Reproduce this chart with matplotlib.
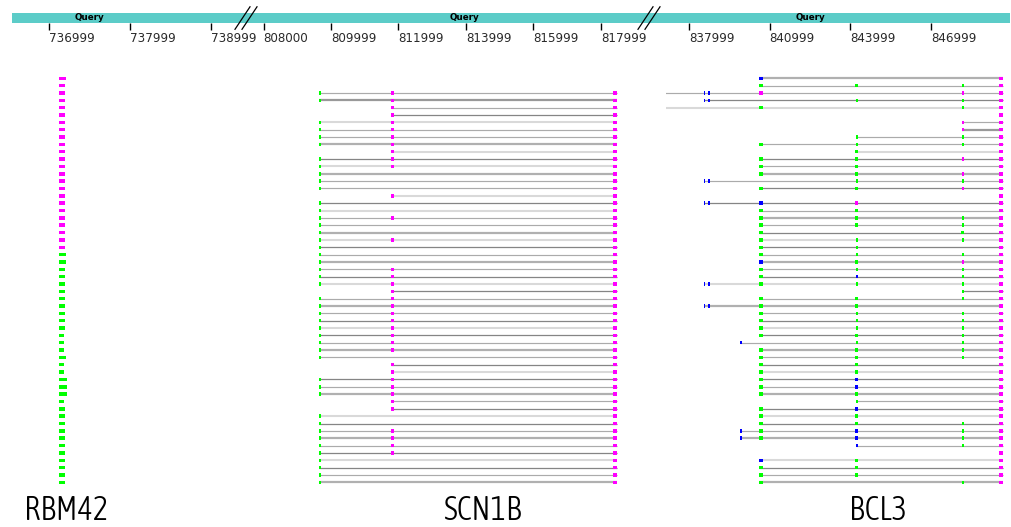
import matplotlib
matplotlib.use("Agg")
import matplotlib.pyplot as plt
from matplotlib.lines import Line2D
from matplotlib import font_manager

W, H = 1011, 527

# ---------------- ruler segments ----------------
seg_limits = [(736542, 739641), (807985, 819926), (837144, 849937)]
seg_px = [(12, 263), (263, 666), (666, 1010)]
seg_ticks = [[736999, 737999, 738999],
             [808000, 809999, 811999, 813999, 815999, 817999],
             [837999, 840999, 843999, 846999]]
query_pos = [737505, 813970, 842536]
gene_names = ["RBM42", "SCN1B", "BCL3"]
gene_label_pos = [737209, 814474, 845028]

# ---------------- RBM42 (single exon blocks) ----------------
rbm42_start = 737126
rbm42_colors = "M" * 24 + "G" * 32
rbm42_lengths = [78, 66, 66, 66, 66, 66, 66, 66, 66, 66,
                 66, 66, 66, 66, 66, 66, 66, 66, 66, 66,
                 66, 66, 66, 66, 78, 78, 66, 66, 66, 66,
                 66, 66, 66, 66, 66, 53, 53, 53, 78, 53,
                 53, 99, 99, 99, 53, 66, 66, 66, 66, 66,
                 66, 66, 66, 66, 66, 66]

# ---------------- SCN1B ----------------
scn1b_first_row = 2
scn1b_exon1 = (809644, 60)
scn1b_exon2 = (811778, 98)
scn1b_exon3 = (818347, 127)
scn1b_has1 = "GG--GGGG" "-GGGGG-GGG" "GGGGGGGGG-" "GGGGGGGGG-" "-GGG--GGGG" "GGGGGG"
scn1b_has2 = "MMMMMMMM" "MMM---M--M" "--M---MMMM" "MMMMMMMM-M" "MMMMMM--MM" "MM----"
scn1b_shade = "mKmDLmmT" "LDLTmmLDLm" "mTLDmTmDLD" "mTmDLDmTmD" "LDmTmDLDmT" "mDLDmT"

# ---------------- BCL3 ----------------
bcl3_far_start = 836900
bcl3_pair = [(838546, 40), (838717, 50)]
bcl3_single = (839914, 55)
bcl3_exonA = (840613, 126)
bcl3_exonB_wide = (844184, 100)
bcl3_exonB_narrow = (844221, 52)
bcl3_exonC_wide = (848126, 100)
bcl3_exonC_narrow = (848151, 60)
bcl3_last = (849516, 171)
bcl3_far_rows = [2, 4]
bcl3_pair_rows = [2, 3, 14, 17, 28, 31]
bcl3_single_rows = [36, 48, 49]
bcl3_A = "BGM-G----G" "-GGG-G-BGG" "GGGGGBGGG-" "GGGGGG-GGG" "GGGG-GGGGG" "--BGGG"
bcl3_B = "-G-g----gg" "GGGGgG-MGG" "G-gggGgbg-" "GGgggGgGGG" "GBBGgBGGBB" "b-GGG-"
bcl3_C = "-gmgg-mmgg" "-m-mgm---g" "gGg-gmgggg" "g-ggggggg-" "-------ggg" "g----g"
bcl3_shade = "TmmDL-mKmm" "LDmTmD-DmT" "mDLDmTmDLD" "mTmDLDmTmD" "LDmTmDLDmT" "m-LDmT"

# ---------------- styling ----------------
EXON_COLORS = {"M": "#ff00ff", "G": "#00ff00", "B": "#0000ff"}
LINE_STYLES = {"L": ("#d9d9d9", 1.5), "m": ("#ababab", 0.85),
               "D": ("#858585", 0.9), "T": ("#b0b0b0", 1.6), "K": ("#999999", 1.6)}
BAR_COLOR = "#5cccc8"
ROW_Y0, ROW_DY = 78.3, 7.345
EXON_H = 0.47


def _weight_num(w):
    if isinstance(w, str):
        return font_manager.weight_dict.get(w, 400)
    return int(w)


def _is_condensed(s):
    if isinstance(s, str):
        return "condensed" in s
    return int(s) < 500


# pick a light narrow face for the gene names
cands = [f for f in font_manager.fontManager.ttflist
         if _is_condensed(f.stretch) and f.style == "normal"]
if cands:
    best = min(cands, key=lambda f: abs(_weight_num(f.weight) - 330))
    GENE_FONT = dict(fontproperties=font_manager.FontProperties(fname=best.fname, size=23.5))
else:
    GENE_FONT = dict(family=["DejaVu Sans"], fontsize=17)


def px_rect(x0, x1, ytop, ybot):
    return [x0 / W, 1 - ybot / H, (x1 - x0) / W, (ybot - ytop) / H]


def row_limits(ytop, ybot):
    return (ybot - ROW_Y0) / ROW_DY, (ytop - ROW_Y0) / ROW_DY


fig = plt.figure(figsize=(W / 100, H / 100), dpi=100)
fig.patch.set_facecolor("white")

panels = []
for k, ((g0, g1), (x0, x1)) in enumerate(zip(seg_limits, seg_px)):
    # ruler bar
    rax = fig.add_axes(px_rect(x0, x1, 13, 22.7))
    rax.set_facecolor(BAR_COLOR)
    rax.set_xlim(g0, g1)
    rax.set_ylim(0, 1)
    for s in rax.spines.values():
        s.set_visible(False)
    rax.set_yticks([])
    rax.set_xticks(seg_ticks[k])
    rax.set_xticklabels([str(t) for t in seg_ticks[k]])
    rax.tick_params(axis="x", direction="out", length=5, width=1.0,
                    color="black", pad=1.5, labelsize=8.6, labelcolor="#2a2a2a")
    for lbl in rax.get_xticklabels():
        lbl.set_horizontalalignment("left")
    rax.text(query_pos[k], 0.5, "Query", fontsize=6.3, fontweight="bold",
             ha="center", va="center", color="black")

    # transcript panel
    ax = fig.add_axes(px_rect(x0, x1, 70, 490))
    ax.set_xlim(g0, g1)
    ax.set_ylim(*row_limits(70, 490))
    ax.set_axis_off()
    ax.text(gene_label_pos[k], (510 - ROW_Y0) / ROW_DY, gene_names[k],
            ha="center", va="center", color="black", clip_on=False, **GENE_FONT)
    panels.append(ax)


def draw_row(ax, row, exons, shade, line_from=None):
    if not exons:
        return
    lo = min(s for s, w, c in exons)
    hi = max(s + w for s, w, c in exons)
    if line_from is not None:
        lo = min(lo, line_from)
    if shade in LINE_STYLES and hi > lo:
        col, lw = LINE_STYLES[shade]
        ax.hlines(row, lo, hi, colors=col, linewidth=lw, zorder=1)
    for s, w, c in exons:
        ax.barh(row, w, left=s, height=EXON_H, color=EXON_COLORS[c],
                linewidth=0, zorder=2)


# RBM42
for i, (c, L) in enumerate(zip(rbm42_colors, rbm42_lengths)):
    draw_row(panels[0], i, [(rbm42_start, L, c)], None)

# SCN1B
for j, (a, b, sh) in enumerate(zip(scn1b_has1, scn1b_has2, scn1b_shade)):
    row = scn1b_first_row + j
    ex = []
    if a != "-":
        ex.append((scn1b_exon1[0], scn1b_exon1[1], "G"))
    if b != "-":
        ex.append((scn1b_exon2[0], scn1b_exon2[1], "M"))
    ex.append((scn1b_exon3[0], scn1b_exon3[1], "M"))
    draw_row(panels[1], row, ex, sh)

# BCL3
for row, (a, b, c, sh) in enumerate(zip(bcl3_A, bcl3_B, bcl3_C, bcl3_shade)):
    ex = []
    if row in bcl3_pair_rows:
        for s, w in bcl3_pair:
            ex.append((s, w, "B"))
    if row in bcl3_single_rows:
        ex.append((bcl3_single[0], bcl3_single[1], "B"))
    if a != "-":
        ex.append((bcl3_exonA[0], bcl3_exonA[1], a))
    if b != "-":
        s, w = bcl3_exonB_wide if b.isupper() else bcl3_exonB_narrow
        ex.append((s, w, b.upper()))
    if c != "-":
        s, w = bcl3_exonC_wide if c.isupper() else bcl3_exonC_narrow
        ex.append((s, w, c.upper()))
    ex.append((bcl3_last[0], bcl3_last[1], "M"))
    draw_row(panels[2], row, ex, sh,
             line_from=bcl3_far_start if row in bcl3_far_rows else None)


# axis-break marks on the ruler, just left of each segment boundary
def draw_break(xb):
    xc = xb - 17
    for dx in (-4, 3):
        fig.add_artist(Line2D([(xc + dx - 7) / W, (xc + dx + 8) / W],
                              [1 - 29.3 / H, 1 - 6.8 / H],
                              color="black", linewidth=0.9))


draw_break(seg_px[0][1])
draw_break(seg_px[1][1])

fig.savefig("out.png", dpi=100, facecolor="white")
